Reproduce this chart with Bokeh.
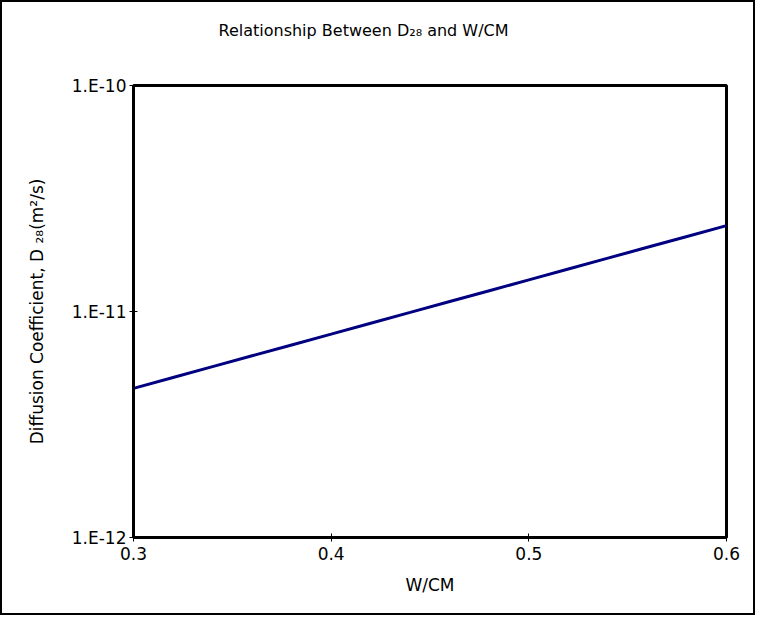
from bokeh.plotting import figure
from bokeh.models import FixedTicker, CustomJSTickFormatter, Range1d, Title
from bokeh.embed import file_html
from bokeh.resources import INLINE

wcm = [0.30, 0.32, 0.34, 0.36, 0.38, 0.40, 0.42, 0.44, 0.46, 0.48,
       0.50, 0.52, 0.54, 0.56, 0.58, 0.60]
d28 = [4.571e-12, 5.105e-12, 5.702e-12, 6.368e-12, 7.112e-12, 7.943e-12,
       8.872e-12, 9.908e-12, 1.107e-11, 1.236e-11, 1.380e-11, 1.542e-11,
       1.722e-11, 1.923e-11, 2.148e-11, 2.399e-11]
x_ticks = [0.3, 0.4, 0.5, 0.6]
y_ticks = [1e-12, 1e-11, 1e-10]
title_text = "Relationship Between D\u2082\u2088 and W/CM"

FONT = "DejaVu Sans"

p = figure(width=755, height=615, y_axis_type="log",
           x_range=Range1d(0.3, 0.6), y_range=Range1d(1e-12, 1e-10),
           output_backend="svg", toolbar_location=None,
           min_border_left=131, min_border_right=31, min_border_top=83,
           min_border_bottom=80)
p.styles = {"border": "2px solid black"}
p.title = None

main_title = Title(text=title_text, text_font=FONT, text_font_size="16px",
                   text_font_style="normal", text_color="black",
                   align="left", offset=85, standoff=0)
spacer = Title(text=" ", text_font=FONT, text_font_size="2px",
               text_font_style="normal", standoff=42)
p.above = [spacer, main_title]

p.line(wcm, d28, line_color="#000080", line_width=3)

p.xgrid.visible = False
p.ygrid.visible = False
p.outline_line_color = "black"
p.outline_line_width = 3

p.xaxis.ticker = FixedTicker(ticks=x_ticks)
p.yaxis.ticker = FixedTicker(ticks=y_ticks)
p.yaxis.formatter = CustomJSTickFormatter(
    code="return '1.E' + Math.round(Math.log10(tick)).toString();")

for ax in (p.xaxis[0], p.yaxis[0]):
    ax.axis_line_color = "black"
    ax.axis_line_width = 3
    ax.major_tick_line_color = "black"
    ax.major_tick_line_width = 1
    ax.major_tick_in = 4
    ax.major_tick_out = 4
    ax.minor_tick_line_color = None
    ax.major_label_text_font = FONT
    ax.major_label_text_font_size = "17px"
    ax.major_label_text_color = "black"
    ax.axis_label_text_font = FONT
    ax.axis_label_text_font_size = "17px"
    ax.axis_label_text_font_style = "normal"
    ax.axis_label_text_color = "black"

p.xaxis.axis_label = "W/CM"
p.yaxis.axis_label = "Diffusion Coefficient, D \u2082\u2088(m\u00b2/s)"
p.xaxis.major_label_standoff = 5
p.xaxis.axis_label_standoff = 12
p.yaxis.major_label_standoff = 3
p.yaxis.axis_label_standoff = 22

open("out.html", "w").write(file_html(p, INLINE))
